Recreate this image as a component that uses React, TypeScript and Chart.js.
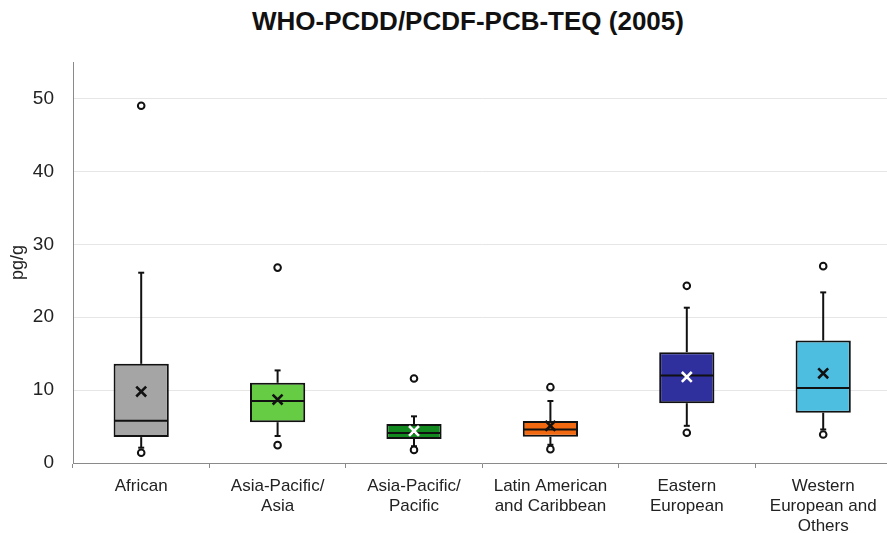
import React, { useEffect, useRef } from "react";
import { Chart, registerables } from "chart.js";

Chart.register(...registerables);

const categories: string[][] = [
  ["African"],
  ["Asia-Pacific/", "Asia"],
  ["Asia-Pacific/", "Pacific"],
  ["Latin American", "and Caribbean"],
  ["Eastern", "European"],
  ["Western", "European and", "Others"],
];

const whiskerLow = [2.1, 3.7, 2.3, 2.5, 5.1, 4.6];
const q1 = [3.55, 5.6, 3.3, 3.6, 8.2, 6.9];
const median = [5.8, 8.5, 4.1, 4.6, 12.0, 10.3];
const q3 = [13.6, 11.0, 5.35, 5.75, 15.2, 16.8];
const whiskerHigh = [26.1, 12.7, 6.4, 8.5, 21.3, 23.4];
const mean = [9.8, 8.7, 4.4, 5.1, 11.8, 12.3];
const outliers: number[][] = [
  [49.0, 1.4],
  [26.8, 2.45],
  [11.6, 1.8],
  [10.4, 1.9],
  [24.3, 4.15],
  [27.0, 3.9],
];
const yTicks = [0, 10, 20, 30, 40, 50];

const boxColors = ["#a5a5a5", "#66cc44", "#12891f", "#f2690f", "#2f2f9e", "#4dbde0"];
const meanColors = ["#111111", "#111111", "#ffffff", "#111111", "#ffffff", "#111111"];

const titleText = "WHO-PCDD/PCDF-PCB-TEQ (2005)";
const yTitle = "pg/g";

const FONT = "'Liberation Sans', Arial, sans-serif";

const whiskerPlugin = {
  id: "whiskers",
  beforeDatasetsDraw(chart: any) {
    const { ctx, scales } = chart;
    const xs = scales.x;
    const ys = scales.y;
    ctx.save();
    ctx.strokeStyle = "#111111";
    ctx.lineWidth = 2;
    categories.forEach((_, i) => {
      const x = xs.getPixelForValue(i);
      const cap = 3;
      const segs = [
        [whiskerLow[i], q1[i]],
        [q3[i], whiskerHigh[i]],
      ];
      segs.forEach(([a, b]) => {
        ctx.beginPath();
        ctx.moveTo(x, ys.getPixelForValue(a));
        ctx.lineTo(x, ys.getPixelForValue(b));
        ctx.stroke();
      });
      [whiskerLow[i], whiskerHigh[i]].forEach((v) => {
        const y = ys.getPixelForValue(v);
        ctx.beginPath();
        ctx.moveTo(x - cap, y);
        ctx.lineTo(x + cap, y);
        ctx.stroke();
      });
    });
    ctx.restore();
  },
  afterDatasetDraw(chart: any, args: any) {
    if (args.index !== 0) return;
    const { ctx, scales } = chart;
    const ys = scales.y;
    const meta = chart.getDatasetMeta(0);
    ctx.save();
    ctx.strokeStyle = "#111111";
    ctx.lineWidth = 2;
    meta.data.forEach((bar: any, i: number) => {
      const half = bar.width / 2;
      const y = ys.getPixelForValue(median[i]);
      ctx.beginPath();
      ctx.moveTo(bar.x - half + 1, y);
      ctx.lineTo(bar.x + half - 1, y);
      ctx.stroke();
    });
    ctx.restore();
  },
};

export default function App() {
  const ref = useRef<HTMLCanvasElement>(null);

  useEffect(() => {
    if (!ref.current) return;
    const outlierSets = [0, 1].map((k) => ({
      type: "line" as const,
      label: "outliers" + k,
      data: outliers.map((o) => (o[k] === undefined ? null : o[k])),
      showLine: false,
      pointStyle: "circle",
      pointRadius: 3.3,
      pointHoverRadius: 3.3,
      pointBorderWidth: 2,
      pointBackgroundColor: "#ffffff",
      pointBorderColor: "#111111",
      order: 2,
    }));
    const chart = new Chart(ref.current, {
      type: "bar",
      data: {
        labels: categories,
        datasets: [
          {
            type: "bar",
            label: "box",
            data: q1.map((v, i) => [v, q3[i]]),
            backgroundColor: boxColors,
            borderColor: "#111111",
            borderWidth: 2,
            borderSkipped: false,
            barPercentage: 0.405,
            categoryPercentage: 1,
            order: 3,
          } as any,
          ...outlierSets,
          {
            type: "line",
            label: "mean",
            data: mean,
            showLine: false,
            pointStyle: "crossRot",
            pointRadius: 7,
            pointHoverRadius: 7,
            pointBorderWidth: 2.6,
            pointBorderColor: meanColors,
            pointBackgroundColor: meanColors,
            order: 1,
          } as any,
        ],
      },
      options: {
        animation: false,
        responsive: false,
        devicePixelRatio: 1,
        layout: { padding: { top: 62, left: 0, right: 0, bottom: 0 } },
        plugins: {
          legend: { display: false },
          tooltip: { enabled: false },
          title: { display: false },
        },
        scales: {
          x: {
            type: "category",
            offset: true,
            grid: {
              display: true,
              offset: true,
              drawOnChartArea: false,
              drawTicks: true,
              tickLength: 5,
              color: "#8a8a8a",
            },
            border: { display: true, color: "#8a8a8a", width: 1 },
            ticks: {
              color: "#222222",
              padding: 8,
              maxRotation: 0,
              autoSkip: false,
              font: { family: FONT, size: 17, lineHeight: 1.18 },
            },
            afterFit: (scale: any) => {
              scale.height = 70;
            },
          },
          y: {
            type: "linear",
            min: 0,
            max: 55,
            afterBuildTicks: (scale: any) => {
              scale.ticks = yTicks.map((v) => ({ value: v }));
            },
            grid: {
              color: "#e6e6e6",
              lineWidth: 1,
              drawTicks: false,
            },
            border: { display: true, color: "#8a8a8a", width: 1 },
            ticks: {
              color: "#222222",
              padding: 19,
              font: { family: FONT, size: 19 },
            },
            title: {
              display: true,
              text: yTitle,
              color: "#222222",
              padding: { top: 7, bottom: 0 },
              font: { family: FONT, size: 18, lineHeight: 1.2 },
            },
            afterFit: (scale: any) => {
              scale.width = 73;
            },
          },
        },
      },
      plugins: [whiskerPlugin],
    });
    return () => chart.destroy();
  }, []);

  return (
    <div
      style={{
        position: "fixed",
        top: 0,
        left: 0,
        width: 887,
        height: 533,
        overflow: "hidden",
        background: "#ffffff",
      }}
    >
      <div
        style={{
          position: "absolute",
          top: 6,
          left: 0,
          width: 936,
          textAlign: "center",
          fontFamily: FONT,
          fontWeight: "bold",
          fontSize: 26,
          lineHeight: "30px",
          color: "#111111",
          whiteSpace: "nowrap",
        }}
      >
        {titleText}
      </div>
      <canvas
        ref={ref}
        width={901}
        height={533}
        style={{ position: "absolute", top: 0, left: 0, width: 901, height: 533 }}
      />
    </div>
  );
}
